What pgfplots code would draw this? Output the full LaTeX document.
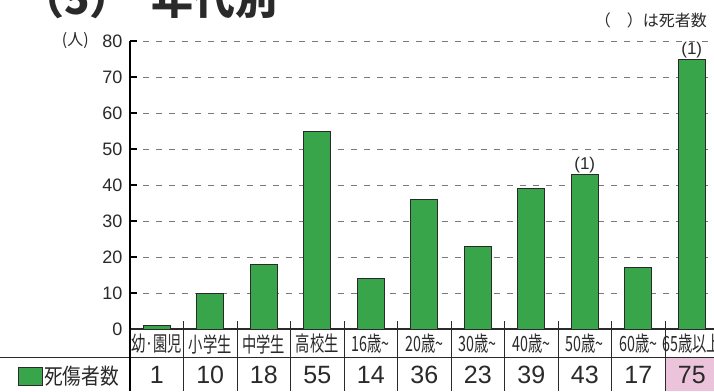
\documentclass[border=0pt]{standalone}
\usepackage{pgfplots}
\pgfplotsset{compat=1.18}
\usepackage{pgfplotstable}
\usepackage{graphicx}
\usepackage{fontspec}
\setmainfont{Liberation Sans}
\newfontfamily\cjk{Noto Sans CJK JP}

\definecolor{barg}{HTML}{38A54A}
\definecolor{pinkcell}{HTML}{EBC4DB}
\definecolor{gridg}{HTML}{7A7A7A}
\definecolor{ink}{HTML}{2A2A2A}

% narrow category labels
\newcommand{\cat}[1]{\scalebox{0.68}[1]{\cjk #1}}

\pgfplotstableread{
x v
0 1
1 10
2 18
3 55
4 14
5 36
6 23
7 39
8 43
9 17
10 75
}\agedata

\begin{document}
\begin{tikzpicture}[x=1pt,y=1pt]
\fill[white] (0,0) rectangle (714,391);
\fill[pinkcell] (665.5,0) rectangle (714,34);

\begin{axis}[
  at={(130pt,62pt)}, anchor=south west,
  scale only axis, width=588.5pt, height=288pt,
  xmin=-0.5, xmax=10.5, ymin=0, ymax=80,
  enlargelimits=false, clip=false,
  axis x line*=bottom, axis y line*=left,
  axis line style={-, ink},
  y axis line style={line width=1.6pt, black},
  x axis line style={line width=1.2pt},
  xtick={0,...,10},
  xticklabels={\cat{幼·園児},\cat{小学生},\cat{中学生},\cat{高校生},\cat{16歳\textasciitilde},
    \cat{20歳\textasciitilde},\cat{30歳\textasciitilde},\cat{40歳\textasciitilde},
    \cat{50歳\textasciitilde},\cat{60歳\textasciitilde},\cat{65歳以上}},
  xtick style={draw=none},
  xticklabel style={anchor=center, yshift=-15pt, font=\fontsize{21}{21}\selectfont, text=ink},
  ytick={0,10,...,80},
  ytick style={line width=1.6pt, black},
  major tick length=7pt, tick align=inside,
  yticklabel style={font=\fontsize{18}{18}\selectfont, text=ink, xshift=-4pt},
  ymajorgrids,
  major grid style={gridg, line width=0.9pt, dash pattern=on 6pt off 7pt},
  /pgf/number format/assume math mode=true,
]
\addplot[ybar, bar width=0.5, bar shift=0pt, fill=barg, draw=ink, line width=0.8pt]
  table[x=x, y=v] {\agedata};
% value row of the table below the axis
\addplot[draw=none, mark=none, point meta=explicit, nodes near coords,
  every node near coord/.style={anchor=center, font=\fontsize{25}{25}\selectfont, text=ink}]
  table[x=x, y expr=-12.8, meta=v] {\agedata};
\node[anchor=south, inner sep=1pt, font=\fontsize{17}{17}\selectfont, text=ink] at (axis cs:8,43) {(1)};
\node[anchor=south, inner sep=1pt, font=\fontsize{17}{17}\selectfont, text=ink] at (axis cs:10,75) {(1)};
\end{axis}

% table lines
\draw[ink, line width=1pt] (0,34) -- (714,34);
\draw[black, line width=1.6pt] (130,62) -- (130,0);
\foreach \i in {1,...,10} \draw[ink, line width=1pt] ({130+53.5*\i},70) -- ({130+53.5*\i},0);

% legend cell
\filldraw[fill=barg, draw=ink, line width=0.6pt] (18,6) rectangle (42,24);
\node[anchor=west, inner sep=0, text=ink] at (44,15) {\scalebox{0.85}[1]{\cjk\fontsize{22}{22}\selectfont 死傷者数}};

% texts
\node[anchor=east, inner sep=0, text=ink, font=\cjk\fontsize{16}{16}\selectfont] at (89,350) {(人)};
\node[anchor=east, inner sep=0, text=ink, font=\cjk\fontsize{16}{16}\selectfont] at (707,371) {（　）は死者数};
\node[anchor=base west, inner sep=0, text=ink, font=\cjk\bfseries\fontsize{42}{42}\selectfont] at (22,376) {（5）\hspace{20pt}年代別};

\pgfresetboundingbox
\path[use as bounding box] (0,0) rectangle (714,391);
\end{tikzpicture}
\end{document}
